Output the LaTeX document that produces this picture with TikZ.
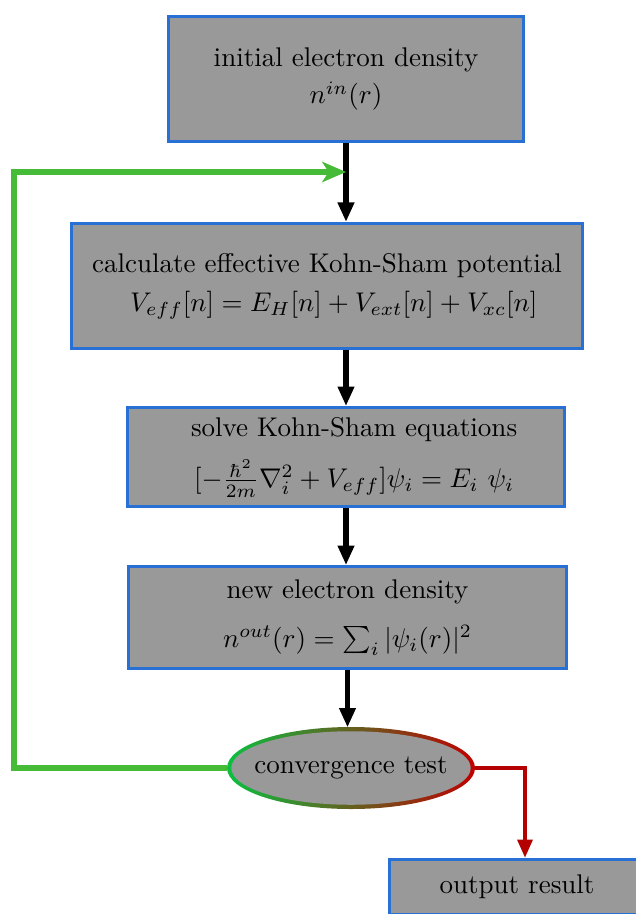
\documentclass[tikz,border=0pt]{standalone}
\usetikzlibrary{arrows.meta,shapes.geometric}
\definecolor{boxblue}{RGB}{40,112,212}
\definecolor{boxgray}{RGB}{153,153,153}
\definecolor{loopgreen}{RGB}{70,187,55}
\definecolor{ringgreen}{RGB}{10,192,64}
\definecolor{ringred}{RGB}{192,0,0}
\definecolor{outred}{RGB}{180,0,0}
\begin{document}
\begin{tikzpicture}[x=0.37pt,y=-0.37pt,
  stepbox/.style={draw=boxblue,line width=1.1pt,fill=boxgray,rectangle,inner sep=0pt,align=center},
  flow/.style={line width=1.9pt,-{Triangle[length=7.2pt,width=5.8pt]}},
  loopline/.style={draw=loopgreen,line width=2.1pt,-{Stealth[length=8.8pt,width=7.5pt,inset=2.4pt]}},
  redflow/.style={draw=outred,line width=1.6pt,-{Triangle[length=6.8pt,width=5.4pt]}}]
\path[use as bounding box] (0,0) rectangle (635,914);

\node[stepbox,minimum width=131pt,minimum height=46.3pt] (init) at (346,79)
  {initial electron density\\[2pt] $n^{in}(r)$};
\node[stepbox,minimum width=189pt,minimum height=46.3pt] (veff) at (327,286)
  {calculate effective Kohn-Sham potential\\[2.5pt] \hspace*{5pt}$V_{eff}[n]=E_H[n]+V_{ext}[n]+V_{xc}[n]$};
\node[stepbox,minimum width=161.7pt,minimum height=36.6pt] (ks) at (346,457)
  {\hspace*{6pt}solve Kohn-Sham equations\\[6pt] \hspace*{6pt}$[-\frac{\hbar^2}{2m}\nabla_i^2+V_{eff}]\psi_i=E_i\ \psi_i$};
\node[stepbox,minimum width=162pt,minimum height=37.7pt] (dens) at (347.5,617.5)
  {new electron density\\[6pt] $n^{out}(r)=\sum_i|\psi_i(r)|^2$};
\shade[left color=ringgreen,right color=ringred] (351,768) ellipse [x radius=124, y radius=41];
\node[ellipse,fill=boxgray,inner xsep=-12pt,inner ysep=0pt,minimum width=88.6pt,minimum height=27.2pt,outer sep=1.4pt] (conv) at (351,768) {convergence test};
\node[stepbox,minimum width=94.4pt,minimum height=20.4pt] (out) at (517,887) {output result};

\coordinate (lp) at (14,172);
\coordinate (rc) at (525,768);
\draw[flow] (init.south) -- (init.south |- veff.north);
\draw[loopline] (conv.west) -| (lp) -- (init.south |- lp);
\draw[flow] (ks.north |- veff.south) -- (ks.north);
\draw[flow] (ks.south) -- (ks.south |- dens.north);
\draw[flow] (dens.south) -- (dens.south |- conv.north);
\draw[redflow] (conv.east) -| (rc |- out.north);
\end{tikzpicture}
\end{document}
